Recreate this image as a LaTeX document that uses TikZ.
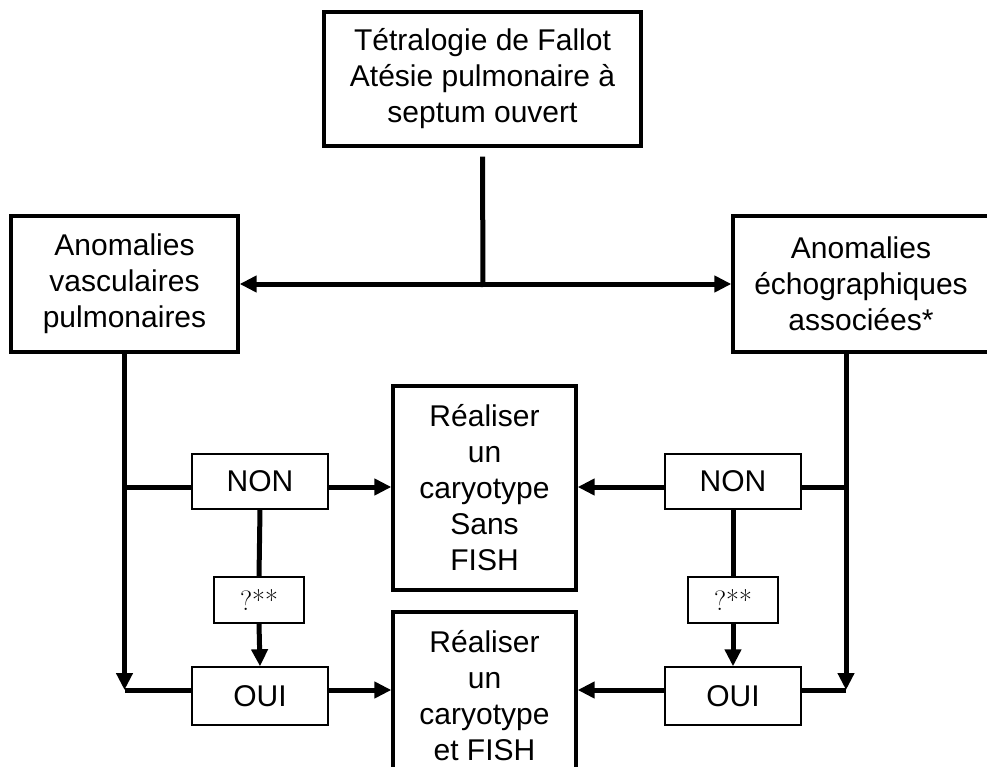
\documentclass[tikz,border=0pt]{standalone}
\usepackage{fontspec}
\newfontfamily\arial{Liberation Sans}
\usetikzlibrary{arrows.meta}
\tikzset{
  bigbox/.style={draw, line width=3.3pt, align=center, inner sep=0pt, font=\arial\fontsize{30}{36}\selectfont},
  smallbox/.style={draw, line width=1.4pt, inner sep=0pt, minimum width=136pt, font=\arial\fontsize{30}{36}\selectfont},
  qbox/.style={draw, line width=1.4pt, inner sep=0pt, minimum width=90pt, minimum height=46pt, font=\fontsize{28}{34}\selectfont},
  conn/.style={line width=5pt},
  tip/.tip={Triangle[length=17pt,width=16pt]},
  arr/.style={conn, -tip},
}
\begin{document}
\begin{tikzpicture}[x=1pt,y=-1pt]
\useasboundingbox (0,0) rectangle (987,767);
\fill[white] (0,0) rectangle (987,767);
\clip (0,0) rectangle (987,767);

\node[bigbox, minimum width=317pt, minimum height=134pt] (top) at (482.5,79) {Tétralogie de Fallot\\Atésie pulmonaire à\\septum ouvert};
\node[bigbox, minimum width=227pt, minimum height=136pt] (left) at (124.5,284) {Anomalies\\vasculaires\\pulmonaires};
\node[bigbox, minimum width=256pt, minimum height=136pt] (right) at (861,284) {Anomalies\\échographiques\\associées*};
\node[bigbox, minimum width=183pt, minimum height=204pt] (sans) at (484.5,488) {Réaliser\\un\\caryotype\\Sans\\FISH};
\node[bigbox, minimum width=183pt, minimum height=168pt] (fish) at (484.5,696) {Réaliser\\un\\caryotype\\et FISH};

\node[smallbox, minimum height=55pt] (nonl) at (260,481.5) {NON};
\node[qbox] (ql) at (259,600) {?**};
\node[smallbox, minimum height=58pt] (ouil) at (260,696) {OUI};
\node[smallbox, minimum height=55pt] (nonr) at (733,481.5) {NON};
\node[qbox] (qr) at (733,600) {?**};
\node[smallbox, minimum height=58pt] (ouir) at (733,696) {OUI};

\coordinate (tj) at (483,285);
\coordinate (lj) at (124.5,487);
\coordinate (lc) at (124.5,690);
\coordinate (rt) at (846,352);
\coordinate (rj) at (846,487);
\coordinate (rc) at (846,690);

\draw[conn] ([yshift=-9pt]top.south) -- ([yshift=-2pt]tj);
\draw[conn, tip-tip] (left.east) -- (right.west);

\draw[arr] (left.south) -- (lc);
\draw[conn] (lj) -- (lj -| nonl.west);
\draw[arr] (lj -| nonl.east) -- (lj -| sans.west);
\draw[conn] (nonl.south) -- (ql.north);
\draw[arr] (ql.south) -- (ouil.north);
\draw[conn] (lc) -- (lc -| ouil.west);
\draw[arr] (lc -| ouil.east) -- (lc -| fish.west);

\draw[arr] (rt) -- (rc);
\draw[conn] (rj) -- (rj -| nonr.east);
\draw[arr] (rj -| nonr.west) -- (rj -| sans.east);
\draw[conn] (nonr.south) -- (qr.north);
\draw[arr] (qr.south) -- (ouir.north);
\draw[conn] (rc) -- (rc -| ouir.east);
\draw[arr] (rc -| ouir.west) -- (rc -| fish.east);
\end{tikzpicture}
\end{document}
